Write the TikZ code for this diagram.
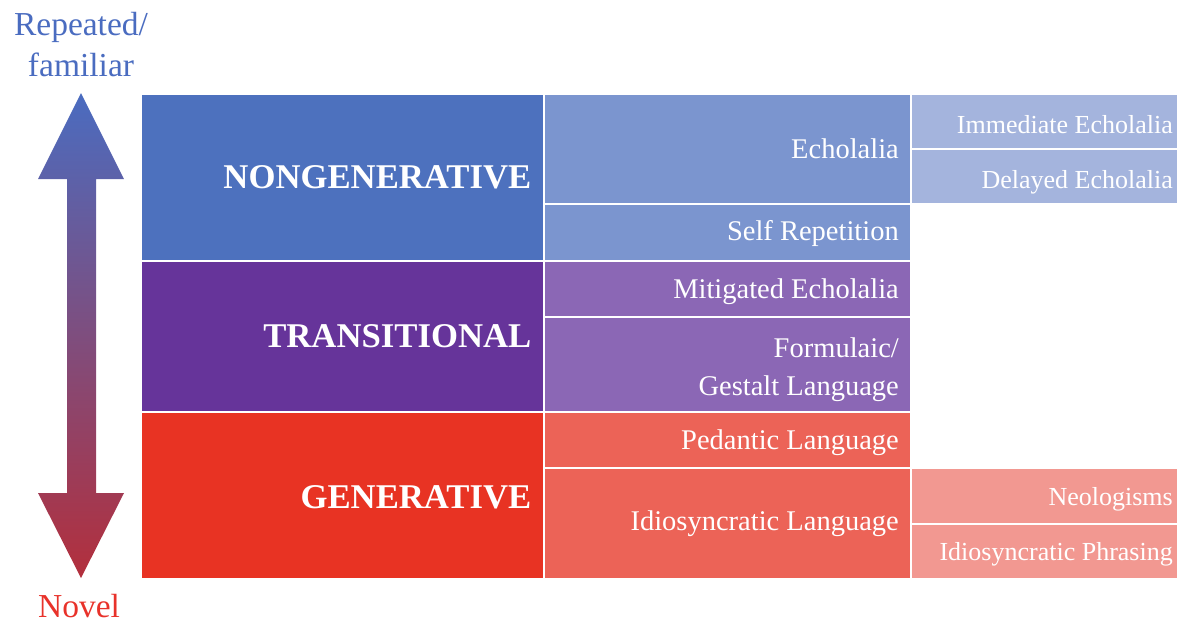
\documentclass[tikz,border=0pt]{standalone}
\usepackage{fontspec}
\setmainfont{Liberation Serif}
\definecolor{genBlue}{HTML}{4D71BE}
\definecolor{genPurple}{HTML}{66349A}
\definecolor{genRed}{HTML}{E83323}
\definecolor{subBlue}{HTML}{7B95CF}
\definecolor{subPurple}{HTML}{8B67B5}
\definecolor{subRed}{HTML}{EC6357}
\definecolor{leafBlue}{HTML}{A4B4DD}
\definecolor{leafRed}{HTML}{F29891}
\definecolor{arrowTop}{HTML}{4A6CC0}
\definecolor{arrowBot}{HTML}{B32F3C}
\definecolor{novelRed}{HTML}{E8322A}
\begin{document}
\begin{tikzpicture}[x=1pt,y=-1pt,
  cell/.style={draw=white, line width=2pt, anchor=north west, inner sep=0pt},
  label base/.style={text=white, anchor=base east, inner sep=0pt},
  maintext/.style={label base, font=\bfseries\fontsize{34.7}{38}\selectfont},
  subtext/.style={label base, font=\fontsize{28.5}{32}\selectfont},
  leaftext/.style={label base, font=\fontsize{26}{31}\selectfont},
  scalelabel/.style={font=\fontsize{33.5}{40}\selectfont, anchor=base},
]
\useasboundingbox (0,0) rectangle (1177,622);

% double-headed scale arrow with blue-to-red gradient
\shade[top color=arrowTop, bottom color=arrowBot]
  (81,93) -- (124,179) -- (96,179) -- (96,493) -- (124,493) -- (81,578)
  -- (38,493) -- (67,493) -- (67,179) -- (38,179) -- cycle;

\node[scalelabel, text=arrowTop] (top1) at (81,35) {Repeated/};
\node[scalelabel, text=arrowTop] (top2) at (81,76) {familiar};
\node[scalelabel, text=novelRed] (novel) at (79,617) {Novel};

% first column: main categories
\node[cell, fill=genBlue,   minimum width=403pt, minimum height=167pt] (nongen) at (140,93) {};
\node[cell, fill=genPurple, minimum width=403pt, minimum height=151pt] (trans)  at (140,260) {};
\node[cell, fill=genRed,    minimum width=403pt, minimum height=167pt] (gen)    at (140,411) {};

% second column: subtypes
\node[cell, fill=subBlue,   minimum width=367pt, minimum height=110pt] (echo)    at (543,93) {};
\node[cell, fill=subBlue,   minimum width=367pt, minimum height=57pt]  (selfrep) at (543,203) {};
\node[cell, fill=subPurple, minimum width=367pt, minimum height=56pt]  (mitig)   at (543,260) {};
\node[cell, fill=subPurple, minimum width=367pt, minimum height=95pt]  (formul)  at (543,316) {};
\node[cell, fill=subRed,    minimum width=367pt, minimum height=56pt]  (pedant)  at (543,411) {};
\node[cell, fill=subRed,    minimum width=367pt, minimum height=111pt] (idio)    at (543,467) {};

% third column: finer subtypes
\node[cell, fill=leafBlue, minimum width=267pt, minimum height=55pt] (immed)  at (910,93) {};
\node[cell, fill=leafBlue, minimum width=267pt, minimum height=55pt] (delay)  at (910,148) {};
\node[cell, fill=leafRed,  minimum width=267pt, minimum height=56pt] (neolog) at (910,467) {};
\node[cell, fill=leafRed,  minimum width=267pt, minimum height=55pt] (phras)  at (910,523) {};

% labels, right-aligned on their baselines
\node[maintext] (nongenT) at (531.5,188) {NONGENERATIVE};
\node[maintext] (transT)  at (531.5,347) {TRANSITIONAL};
\node[maintext] (genT)    at (531.5,508) {GENERATIVE};

\node[subtext] (echoT)    at (899,158) {Echolalia};
\node[subtext] (selfrepT) at (899,240) {Self Repetition};
\node[subtext] (mitigT)   at (899,298) {Mitigated Echolalia};
\node[subtext] (formulT)  at (899,357) {Formulaic/};
\node[subtext] (gestaltT) at (899,395) {Gestalt Language};
\node[subtext] (pedantT)  at (899,449) {Pedantic Language};
\node[subtext] (idioT)    at (899,530) {Idiosyncratic Language};

\node[leaftext] (immedT)  at (1173,133) {Immediate Echolalia};
\node[leaftext] (delayT)  at (1173,188) {Delayed Echolalia};
\node[leaftext] (neologT) at (1173,505) {Neologisms};
\node[leaftext] (phrasT)  at (1173,560) {Idiosyncratic Phrasing};
\end{tikzpicture}
\end{document}
